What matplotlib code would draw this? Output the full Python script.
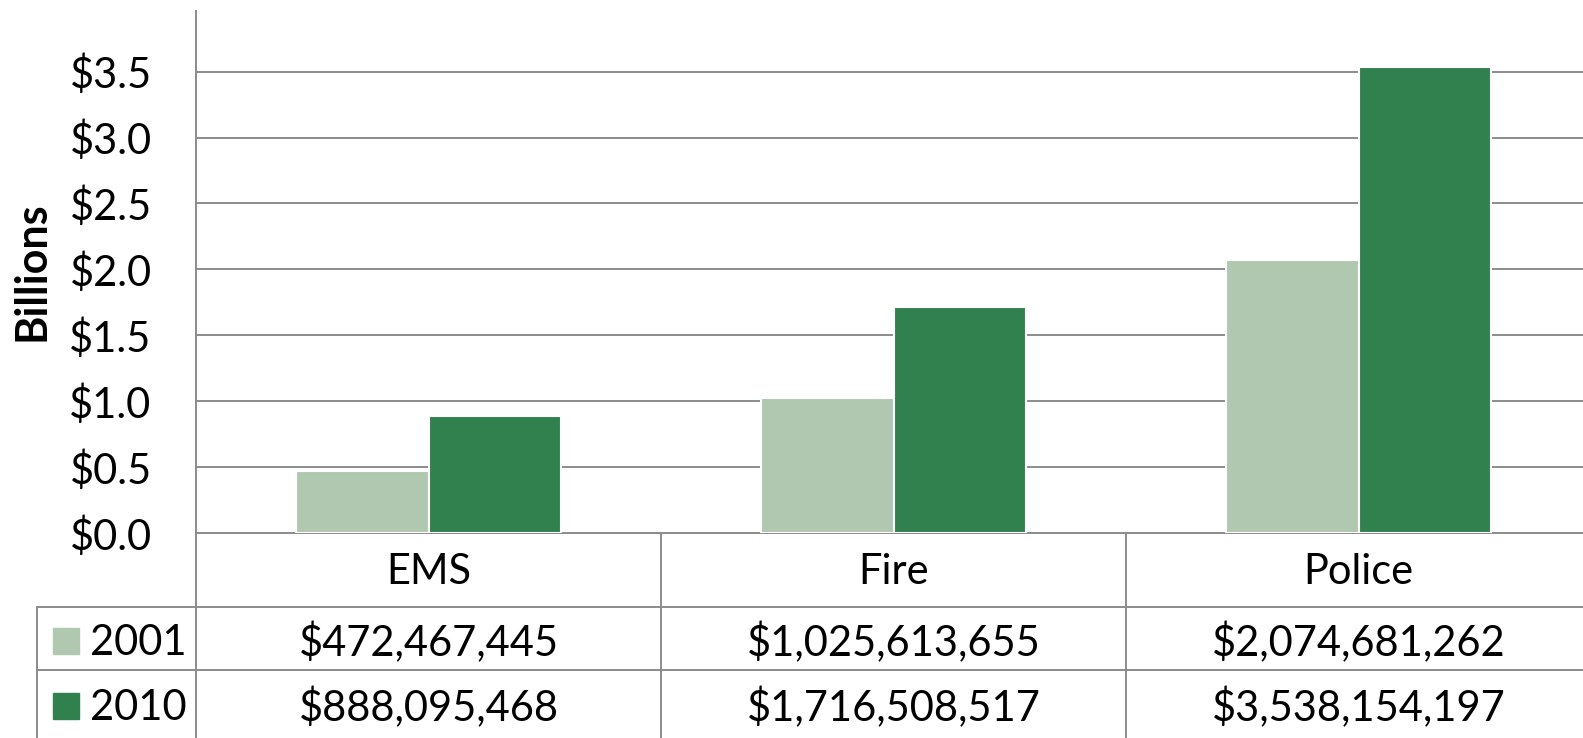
import numpy as np
import matplotlib
matplotlib.use("Agg")
import matplotlib.pyplot as plt
import matplotlib.transforms as mtransforms
from matplotlib.patches import Rectangle

# =========================================================
# DATA
# =========================================================
categories = ["EMS", "Fire", "Police"]
years = ["2001", "2010"]
spend_2001 = [472467445, 1025613655, 2074681262]
spend_2010 = [888095468, 1716508517, 3538154197]
ytick_vals = [0.0, 0.5, 1.0, 1.5, 2.0, 2.5, 3.0, 3.5]

# =========================================================
# STYLE
# =========================================================
COLORS = ["#B0C8B0", "#31814F"]
LINE = "#8C8C8C"
FONT = "Lato"
FS = 30

plt.rcParams["font.family"] = [FONT, "DejaVu Sans"]

W, H = 1583, 738
fig = plt.figure(figsize=(W / 100, H / 100), dpi=100)

# plot area in pixels (from top-left)
x0_px, x1_px = 196, 1591
top_px, base_px = 11, 533


def fx(px):
    return px / W


def fy(px):
    return 1 - px / H


ax = fig.add_axes([fx(x0_px), fy(base_px), fx(x1_px) - fx(x0_px), fy(top_px) - fy(base_px)])

x = np.arange(len(categories))
bw = 0.284
vals = [np.array(spend_2001) / 1e9, np.array(spend_2010) / 1e9]
for i, (yr, v) in enumerate(zip(years, vals)):
    ax.bar(x + (i - 0.5) * bw, v, bw, color=COLORS[i], edgecolor="white",
           linewidth=1.5, zorder=3)

ax.set_xlim(-0.5, 2.5)
ax.set_ylim(0, 3.96)
ax.set_xticks([])
ax.set_yticks(ytick_vals)
ax.set_yticklabels([f"${v:.1f}" for v in ytick_vals], fontsize=FS)
ax.tick_params(axis="y", length=0, pad=32)
ax.set_axisbelow(True)
ax.yaxis.grid(True, color=LINE, linewidth=1.4)
for s in ["top", "right"]:
    ax.spines[s].set_visible(False)
for s in ["left", "bottom"]:
    ax.spines[s].set_color(LINE)
    ax.spines[s].set_linewidth(1.4)

fig.text(fx(31), fy(271), "Billions", rotation=90, fontsize=31,
         fontweight="bold", ha="center", va="center")

# =========================================================
# DATA TABLE
# =========================================================
blend = mtransforms.blended_transform_factory(ax.transData, fig.transFigure)
figt = fig.transFigure

row1_px, row2_px, bottom_px = 607, 670, 745

# vertical lines
ax.plot([-0.5, -0.5], [fy(base_px), fy(bottom_px)], transform=blend,
        color=LINE, lw=1.4, clip_on=False)
for b in [0.5, 1.5]:
    ax.plot([b, b], [fy(base_px), fy(bottom_px)], transform=blend,
            color=LINE, lw=1.4, clip_on=False)
ax.plot([fx(37), fx(37)], [fy(row1_px), fy(bottom_px)], transform=figt,
        color=LINE, lw=1.4, clip_on=False)
# horizontal lines
for r in [row1_px, row2_px]:
    ax.plot([fx(37), 1.0], [fy(r), fy(r)], transform=figt,
            color=LINE, lw=1.4, clip_on=False)

for i, c in enumerate(categories):
    ax.text(i, fy(572), c, transform=blend, ha="center", va="center", fontsize=FS)

row_centers = [643, 708]
for j, (yr, raw) in enumerate(zip(years, [spend_2001, spend_2010])):
    yc = row_centers[j]
    fig.patches.append(Rectangle((fx(53), fy(yc + 11)), fx(26), 26 / H,
                                 transform=figt, color=COLORS[j]))
    fig.text(fx(90), fy(yc), yr, ha="left", va="center", fontsize=FS)
    for i, v in enumerate(raw):
        ax.text(i, fy(yc), f"${v:,}", transform=blend, ha="center",
                va="center", fontsize=FS)

fig.savefig("out.png", dpi=100)
